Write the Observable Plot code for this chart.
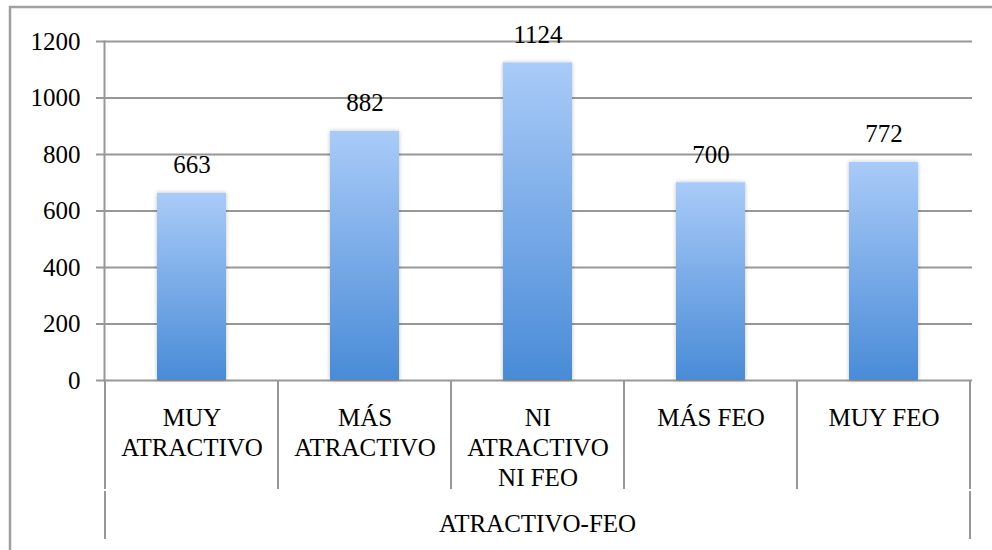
<!DOCTYPE html>
<html>
<head>
<meta charset="utf-8">
<script src="https://cdn.jsdelivr.net/npm/d3@7"></script>
<script src="https://cdn.jsdelivr.net/npm/@observablehq/plot@0.6"></script>
<style>
  html, body { margin: 0; padding: 0; background: #fff; }
  #chart svg { display: block; }
  #chart svg text { font-family: "Liberation Serif", "Tinos", "DejaVu Serif", serif !important; }
</style>
</head>
<body>
<div id="chart"></div>
<script>
// ---- data ----
const categories = ["MUY\nATRACTIVO", "MÁS\nATRACTIVO", "NI\nATRACTIVO\nNI FEO", "MÁS FEO", "MUY FEO"];
const values = [663, 882, 1124, 700, 772];
const groupLabel = "ATRACTIVO-FEO";
const yTicks = [0, 200, 400, 600, 800, 1000, 1200];

const data = categories.map((c, i) => ({cat: c, value: values[i]}));

const gray = "#979797";
const font = "Liberation Serif, DejaVu Serif, serif";

const defsMark = () => {
  const defs = d3.create("svg:defs");
  const g = defs.append("linearGradient").attr("id", "barGrad")
    .attr("x1", 0).attr("y1", 0).attr("x2", 0).attr("y2", 1);
  g.append("stop").attr("offset", "0%").attr("stop-color", "#a9cbf8");
  g.append("stop").attr("offset", "100%").attr("stop-color", "#498bd7");
  const f = defs.append("filter").attr("id", "barShadow")
    .attr("x", "-20%").attr("y", "-10%").attr("width", "140%").attr("height", "120%");
  f.append("feGaussianBlur").attr("in", "SourceAlpha").attr("stdDeviation", 2).attr("result", "blur");
  f.append("feComponentTransfer").attr("in", "blur").attr("result", "soft")
    .append("feFuncA").attr("type", "linear").attr("slope", 0.25);
  const m = f.append("feMerge");
  m.append("feMergeNode").attr("in", "soft");
  m.append("feMergeNode").attr("in", "SourceGraphic");
  return defs.node();
};

const separators = (index, scales, vals, dims) => {
  const x = scales.x, y = scales.y;
  const bw = typeof x.bandwidth === "function" ? x.bandwidth() : x.bandwidth;
  const step = x(categories[1]) - x(categories[0]);
  const pad = (step - bw) / 2;
  const edges = categories.map(c => x(c) - pad);
  edges.push(x(categories[categories.length - 1]) + bw + pad);
  const y0 = y(0);
  const g = d3.create("svg:g");
  g.append("rect").attr("x", 10).attr("y", 7)
    .attr("width", dims.width + 40).attr("height", dims.height + 40)
    .attr("fill", "none").attr("stroke", "#a0a0a0").attr("stroke-width", 2.5);
  edges.forEach(e => {
    g.append("line").attr("x1", e).attr("x2", e).attr("y1", y0).attr("y2", y0 + 109)
      .attr("stroke", gray).attr("stroke-width", 2);
  });
  [edges[0], edges[edges.length - 1]].forEach(e => {
    g.append("line").attr("x1", e).attr("x2", e).attr("y1", y0 + 111).attr("y2", y0 + 159)
      .attr("stroke", gray).attr("stroke-width", 2);
  });
  g.append("text").attr("x", (edges[0] + edges[edges.length - 1]) / 2).attr("y", y0 + 152)
    .attr("text-anchor", "middle").attr("font-size", 25).attr("fill", "#000")
    .text(groupLabel);
  return g.node();
};

const chart = Plot.plot({
  width: 992,
  height: 550,
  marginLeft: 104,
  marginRight: 20,
  marginTop: 41,
  marginBottom: 170,
  style: {fontSize: "25px", color: "#000", background: "#fff", overflow: "visible"},
  x: {domain: categories, paddingInner: 0.6, paddingOuter: 0.3, axis: null},
  y: {domain: [0, 1200], axis: null},
  marks: [
    defsMark,
    Plot.gridY(yTicks, {stroke: gray, strokeOpacity: 1, strokeWidth: 2}),
    Plot.axisY(yTicks, {tickSize: 8, tickPadding: 16, tickFormat: d => String(d), stroke: gray, strokeWidth: 2, fill: "#000", fontSize: 25, label: null}),
    Plot.frame({anchor: "left", stroke: gray, strokeWidth: 2}),
    Plot.barY(data, {x: "cat", y: "value", fill: "url(#barGrad)"}),
    Plot.text(data, {x: "cat", y: "value", text: d => String(d.value), lineAnchor: "bottom", dy: -20, fontSize: 25, fill: "#000"}),
    Plot.text(data, {x: "cat", text: "cat", frameAnchor: "bottom", lineAnchor: "top", dy: 24, lineHeight: 1.2, fontSize: 25, fill: "#000"}),
    separators
  ]
});

d3.select(chart).selectAll("g[aria-label='bar'] rect").attr("filter", "url(#barShadow)");
document.getElementById("chart").appendChild(chart);
</script>
</body>
</html>
